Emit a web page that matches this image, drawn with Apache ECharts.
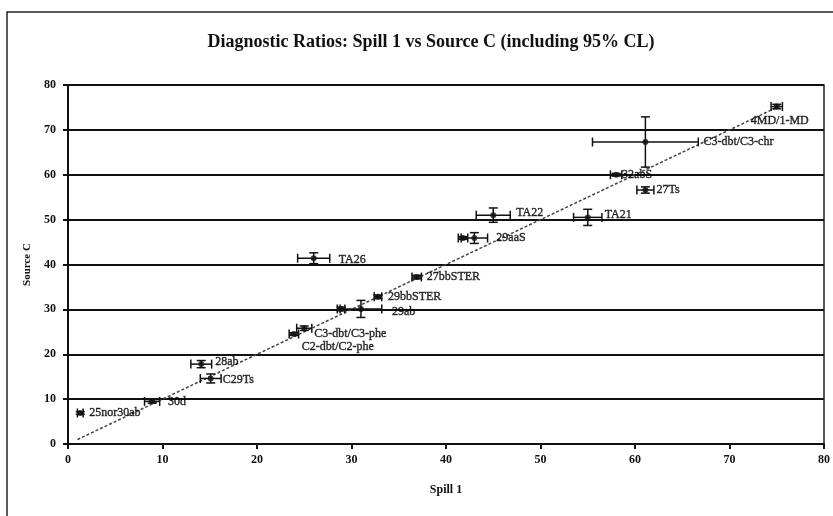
<!DOCTYPE html>
<html>
<head>
<meta charset="utf-8">
<script src="https://cdn.jsdelivr.net/npm/echarts@6/dist/echarts.min.js"></script>
<style>
  html, body { margin: 0; padding: 0; background: #fff; }
  #chart { width: 833px; height: 516px; }
</style>
</head>
<body>
<div id="chart"></div>
<script>
// ratio names, '' = no label
const names = ['25nor30ab', '30d', '28ab', 'C29Ts', 'C2-dbt/C2-phe', 'C3-dbt/C3-phe', '', '29ab',
  '29bbSTER', '27bbSTER', 'TA26', '', '29aaS', 'TA22', 'TA21', '32abS', '27Ts', 'C3-dbt/C3-chr', '4MD/1-MD'];
const spill1 = [1.3, 8.9, 14.1, 15.1, 23.9, 25.0, 28.9, 31.0, 32.8, 36.9, 26.0, 41.8, 43.0, 45.0, 55.0, 58.0, 61.1, 61.1, 75.0];
const sourceC = [6.9, 9.5, 17.8, 14.6, 24.5, 25.8, 30.1, 30.1, 32.8, 37.2, 41.4, 45.9, 45.9, 51.0, 50.5, 60.0, 56.6, 67.3, 75.2];
// 95% CL half widths
const spill1Err = [0.3, 0.8, 1.1, 1.1, 0.5, 0.8, 0.4, 2.2, 0.4, 0.5, 1.7, 0.5, 1.4, 1.8, 1.5, 0.6, 0.9, 5.6, 0.6];
const sourceCErr = [0.3, 0.4, 0.8, 1.0, 0.3, 0.5, 0.4, 1.9, 0.4, 0.4, 1.2, 0.3, 1.2, 1.6, 1.8, 0.3, 0.7, 5.6, 0.5];
const trendX = [1, 75];
const trendY = [1, 75];
const axisTicks = [0, 10, 20, 30, 40, 50, 60, 70, 80];

// label nudges in px (placement only)
const labelShift = [[6, 0], [13, 0], [11, -2], [9, 1], [5, 13], [7, 6], [0, 0], [28, 3],
  [7, 0], [7, 0], [22, 2], [0, 0], [19, 0], [20, -2], [14, -3], [3, 0], [8, 0], [55, 0], [-29, 14]];

const serif = '"Liberation Serif", "DejaVu Serif", serif';

const points = names.map((n, i) => ({
  name: n,
  value: [spill1[i], sourceC[i]],
  label: { offset: labelShift[i] }
}));
const errData = names.map((n, i) => [spill1[i], sourceC[i], spill1Err[i], sourceCErr[i]]);

const chart = echarts.init(document.getElementById('chart'));

chart.setOption({
  animation: false,
  backgroundColor: '#fff',
  title: {
    text: 'Diagnostic Ratios: Spill 1 vs Source C (including 95% CL)',
    left: 426,
    top: 28,
    textAlign: 'center',
    textStyle: { fontFamily: serif, fontSize: 18, fontWeight: 'bold', color: '#111' }
  },
  graphic: [{
    type: 'rect',
    shape: { x: 7, y: 12, width: 840, height: 520 },
    style: { fill: 'none', stroke: '#222', lineWidth: 1.5 },
    silent: true
  }],
  grid: {
    left: 68, right: 8, top: 85, bottom: 72,
    show: true, borderColor: '#222', borderWidth: 1.5
  },
  xAxis: {
    type: 'value',
    min: 0, max: 80, interval: 10,
    name: 'Spill 1',
    nameLocation: 'middle',
    nameGap: 40,
    nameTextStyle: { fontFamily: serif, fontSize: 12, fontWeight: 'bold', color: '#111' },
    axisLine: { show: true, lineStyle: { color: '#111', width: 2 } },
    axisTick: { show: true, length: 5, lineStyle: { color: '#111', width: 2 } },
    axisLabel: {
      fontFamily: serif, fontSize: 12, fontWeight: 'bold', color: '#111', margin: 10,
      formatter: v => axisTicks.includes(v) ? String(v) : ''
    },
    splitLine: { show: false }
  },
  yAxis: {
    type: 'value',
    min: 0, max: 80, interval: 10,
    name: 'Source C',
    nameLocation: 'middle',
    nameGap: 34,
    nameTextStyle: { fontFamily: serif, fontSize: 11, fontWeight: 'bold', color: '#111' },
    axisLine: { show: true, lineStyle: { color: '#111', width: 2 } },
    axisTick: { show: true, length: 5, lineStyle: { color: '#111', width: 2 } },
    axisLabel: {
      fontFamily: serif, fontSize: 12, fontWeight: 'bold', color: '#111', margin: 12,
      formatter: v => axisTicks.includes(v) ? String(v) : ''
    },
    splitLine: { show: true, lineStyle: { color: '#111', width: 2 } }
  },
  series: [
    {
      type: 'line',
      data: trendX.map((x, i) => [x, trendY[i]]),
      symbol: 'none',
      lineStyle: { color: '#444', width: 1.5, type: [3, 2] },
      z: 2
    },
    {
      type: 'custom',
      data: errData,
      z: 3,
      renderItem: (params, api) => {
        const x = api.value(0), y = api.value(1), ex = api.value(2), ey = api.value(3);
        const l = api.coord([x - ex, y]);
        const r = api.coord([x + ex, y]);
        const t = api.coord([x, y + ey]);
        const b = api.coord([x, y - ey]);
        const cap = 4.5;
        const st = { stroke: '#111', lineWidth: 1.5 };
        const line = (x1, y1, x2, y2) => ({ type: 'line', shape: { x1, y1, x2, y2 }, style: st });
        return {
          type: 'group',
          children: [
            line(l[0], l[1], r[0], r[1]),
            line(l[0], l[1] - cap, l[0], l[1] + cap),
            line(r[0], r[1] - cap, r[0], r[1] + cap),
            line(t[0], t[1], b[0], b[1]),
            line(t[0] - cap, t[1], t[0] + cap, t[1]),
            line(b[0] - cap, b[1], b[0] + cap, b[1])
          ]
        };
      }
    },
    {
      type: 'scatter',
      data: points,
      symbol: 'circle',
      symbolSize: 6,
      itemStyle: { color: '#111' },
      z: 4,
      label: {
        show: true,
        position: 'right',
        distance: 0,
        formatter: p => p.name,
        fontFamily: serif,
        fontSize: 12,
        color: '#000',
        textBorderColor: '#000',
        textBorderWidth: 0.4
      }
    }
  ]
});
</script>
</body>
</html>
